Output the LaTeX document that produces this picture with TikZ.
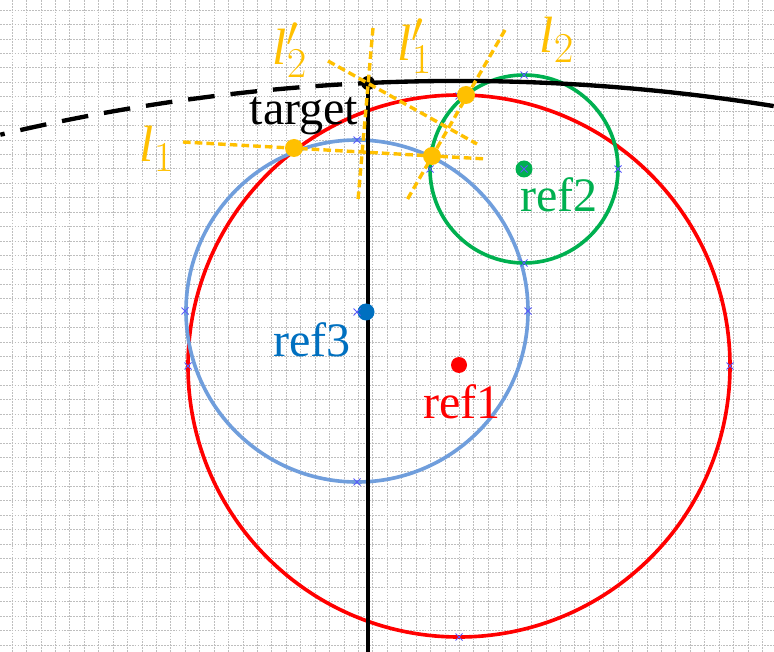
\documentclass[tikz,border=0pt]{standalone}
\usepackage{fontspec}
\setmainfont{Liberation Serif}

\definecolor{gridgray}{RGB}{190,190,190}
\definecolor{circred}{RGB}{255,0,0}
\definecolor{circgreen}{RGB}{0,176,80}
\definecolor{circblue}{RGB}{112,158,220}
\definecolor{dotblue}{RGB}{0,112,192}
\definecolor{lineyel}{RGB}{255,192,0}
\definecolor{handle}{RGB}{90,90,250}

\begin{document}
\begin{tikzpicture}[x=0.03cm, y=-0.03cm,
  gridline/.style={gridgray, line width=0.6pt, dash pattern=on 1.5pt off 1pt},
  ring/.style={line width=3.1pt},
  hmark/.style={handle, line width=0.8pt},
  guide/.style={lineyel, line width=2.9pt, dash pattern=on 6.5pt off 3.5pt},
  geo/.style={black, line width=3.7pt},
  lbl/.style={font=\Huge, scale=1.65, inner sep=0pt},
  mlbl/.style={font=\Huge, scale=1.75, inner sep=0pt, text=lineyel}]

  \useasboundingbox (0,0) rectangle (774,652);

  % background grid
  \foreach \gx in {0,...,52}
    \draw[gridline] ({12+14.43*\gx},0) -- ({12+14.43*\gx},652);
  \foreach \gy in {0,...,44}
    \draw[gridline] (0,{10+14.43*\gy}) -- (774,{10+14.43*\gy});

  % reference circles
  \draw[ring, circred] (459,366) circle[radius=271];
  \draw[ring, circblue] (357,311) circle[radius=171];
  \draw[ring, circgreen] (524,169) circle[radius=94];

  % handles on the circles
  \foreach \mx/\my in {188/366, 730/366, 459/637, 459/96, 185/311, 528/311,
                       357/482, 357/140, 524/75, 618/169, 524/263, 430/169}
    \draw[hmark] (\mx,\my) ++(-3.5,-3.5) -- ++(7,7) ++(-7,0) -- ++(7,-7);

  % target curve and axis
  \coordinate (target) at (368,83);
  \coordinate (axisend) at (368,652);
  \draw[geo] (target) -- (axisend);
  \draw[geo] (target) arc[start angle=-92.63, end angle=-80.86, radius=1982];
  \draw[geo, dash pattern=on 0.8cm off 0.48cm, dash phase=0.5cm]
    (target) arc[start angle=-92.63, end angle=-103.38, radius=1982];
  \fill (target) circle[radius=7];

  % bearing lines
  \coordinate (l1a) at (183,142);
  \coordinate (l1b) at (487,159);
  \coordinate (l2a) at (505,30);
  \coordinate (l2b) at (407,200);
  \coordinate (l1pa) at (373,28);
  \coordinate (l1pb) at (358,200);
  \coordinate (l2pa) at (328,61);
  \coordinate (l2pb) at (477,144);
  \draw[guide] (l1a) -- (l1b);
  \draw[guide] (l2a) -- (l2b);
  \draw[guide] (l1pa) -- (l1pb);
  \draw[guide] (l2pa) -- (l2pb);

  % intersection points
  \coordinate (p1) at (294,148);
  \coordinate (p2) at (466,95);
  \coordinate (p3) at (432,156);
  \fill[lineyel] (p1) circle[radius=9];
  \fill[lineyel] (p2) circle[radius=9];
  \fill[lineyel] (p3) circle[radius=9];

  % reference stations
  \fill[circred] (459,365) circle[radius=8];
  \fill[circgreen] (524,169) circle[radius=8.5];
  \fill[dotblue] (366,312) circle[radius=8.5];
  \foreach \mx/\my in {524/169, 357/312}
    \draw[hmark] (\mx,\my) ++(-3.5,-3.5) -- ++(7,7) ++(-7,0) -- ++(7,-7);

  % labels
  \node[lbl, anchor=base] (tgtlbl) at (304,125) {target};
  \node[lbl, anchor=base, text=circred] (ref1lbl) at (462,419) {ref1};
  \node[lbl, anchor=base, text=circgreen] (ref2lbl) at (559,212) {ref2};
  \node[lbl, anchor=base, text=dotblue] (ref3lbl) at (312,357) {ref3};
  \node[mlbl] (l1lbl) at (157,149) {$\mathit{l}_1$};
  \node[mlbl] (l2lbl) at (557,40) {$\mathit{l}_2$};
  \node[mlbl] (l1plbl) at (415,46) {$\mathit{l}'_1$};
  \node[mlbl] (l2plbl) at (290,50) {$\mathit{l}'_2$};

\end{tikzpicture}
\end{document}
